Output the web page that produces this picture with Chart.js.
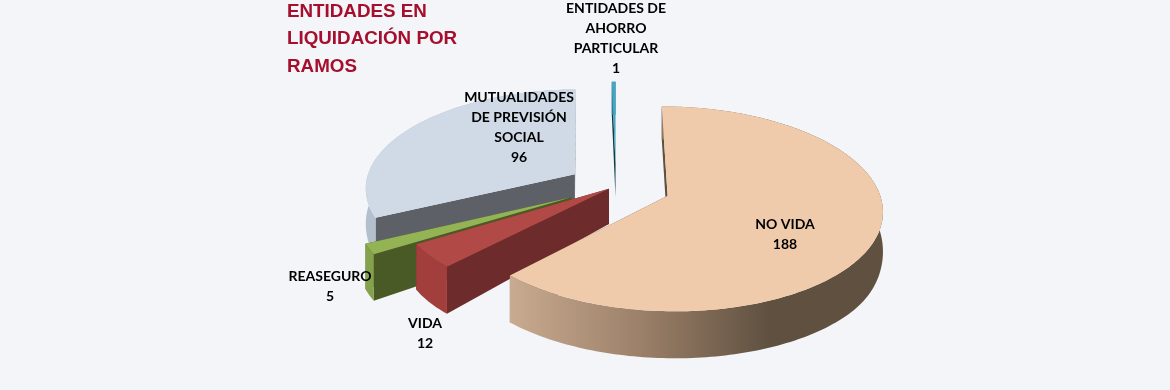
<!DOCTYPE html>
<html>
<head>
<meta charset="utf-8">
<style>
  html, body { margin: 0; padding: 0; background: #f3f5f8; }
  #chart { display: block; }
</style>
<script src="https://cdn.jsdelivr.net/npm/chart.js@4"></script>
</head>
<body>
<canvas id="chart" width="1170" height="390"></canvas>
<script>
const categories = [
  ['NO VIDA'],
  ['VIDA'],
  ['REASEGURO'],
  ['MUTUALIDADES', 'DE PREVISIÓN', 'SOCIAL'],
  ['ENTIDADES DE', 'AHORRO', 'PARTICULAR']
];
const values = [188, 12, 5, 96, 1];
const titleLines = ['ENTIDADES EN', 'LIQUIDACIÓN POR', 'RAMOS'];

const explode = [55, 9, 50, 49, 47];
const topColors = ['#efcbab', '#b14a47', '#93b355', '#cfdae6', '#45a6c3'];
const radialColors = ['#5f5040', '#6e2b2b', '#4a5a26', '#5d6167', '#123a45'];
const rimColors = ['#5f5040', '#a23f3d', '#84a24c', '#b4bfcd', '#2d7f98'];
const labelCenters = [[785, 224], [425, 323], [330, 276], [519, 97], [616, 8]];

// fake 3D: flat pie coords from Chart.js get pushed through a small perspective
const perspective = 0.0006;
const squash = 0.468;

const project = (cx, cy, u, v, down) => {
  const s = 1 / (1 - perspective * v);
  const x = cx + u * s;
  const y = cy + squash * v * s;
  // side height grows towards the viewer, then levels off smoothly
  const t = Math.min(1, Math.max(0, (s - 0.97) / 0.13));
  const depth = 33 + 14 * t * t * (3 - 2 * t);
  return down ? [x, y + depth] : [x, y];
}

const arcPoints = (u0, v0, r, start, end) => {
  const pts = [];
  const steps = Math.max(2, Math.ceil((end - start) / 0.02));
  for (let i = 0; i <= steps; i++) {
    const a = start + (end - start) * i / steps;
    pts.push([u0 + Math.cos(a) * r, v0 + Math.sin(a) * r]);
  }
  return pts;
}

const fillPoly = (ctx, pts, color) => {
  ctx.beginPath();
  pts.forEach((p, i) => i ? ctx.lineTo(p[0], p[1]) : ctx.moveTo(p[0], p[1]));
  ctx.closePath();
  ctx.fillStyle = color;
  ctx.fill();
}

const pie3d = {
  id: 'pie3d',
  beforeDatasetsDraw(chart) {
    const ctx = chart.ctx;
    const arcs = chart.getDatasetMeta(0).data;
    const tops = chart.data.datasets[0].backgroundColor;

    // back to front, so the big slice ends up on top
    for (let i = arcs.length - 1; i >= 0; i--) {
      const arc = arcs[i];
      const mid = (arc.startAngle + arc.endAngle) / 2;
      const u0 = Math.cos(mid) * arc.options.offset;
      const v0 = Math.sin(mid) * arc.options.offset;
      const flat = arcPoints(u0, v0, arc.outerRadius, arc.startAngle, arc.endAngle);
      const up = flat.map(p => project(arc.x, arc.y, p[0], p[1], false));
      const low = flat.map(p => project(arc.x, arc.y, p[0], p[1], true));
      const apexUp = project(arc.x, arc.y, u0, v0, false);
      const apexLow = project(arc.x, arc.y, u0, v0, true);

      fillPoly(ctx, [apexUp, up[0], low[0], apexLow], radialColors[i]);
      fillPoly(ctx, [apexUp, up[up.length - 1], low[low.length - 1], apexLow], radialColors[i]);

      let rim = rimColors[i];
      if (i === 0) {
        rim = ctx.createLinearGradient(509, 0, 883, 0);
        rim.addColorStop(0, '#c8ab90');
        rim.addColorStop(0.35, '#9c8069');
        rim.addColorStop(0.7, '#5f5040');
        rim.addColorStop(1, '#5f5040');
      }
      fillPoly(ctx, up.concat(low.slice().reverse()), rim);
      fillPoly(ctx, [apexUp].concat(up), tops[i]);
    }

    // slice labels
    ctx.save();
    ctx.font = 'bold 14px Lato';
    ctx.fillStyle = '#000';
    ctx.textAlign = 'center';
    ctx.textBaseline = 'middle';
    categories.forEach((lines, i) => {
      lines.concat(String(values[i])).forEach((line, n) => {
        ctx.fillText(line, labelCenters[i][0], labelCenters[i][1] + n * 20);
      });
    });

    // title
    ctx.font = 'bold 18.8px "Liberation Sans"';
    ctx.fillStyle = '#a50f2d';
    ctx.textAlign = 'left';
    titleLines.forEach((line, n) => ctx.fillText(line, 287, 11.5 + n * 27.5));
    ctx.restore();

    return false;
  }
};

new Chart(document.getElementById('chart').getContext('2d'), {
  type: 'pie',
  data: {
    labels: categories,
    datasets: [{
      data: values,
      backgroundColor: topColors,
      offset: explode,
      borderWidth: 0
    }]
  },
  options: {
    responsive: false,
    animation: false,
    events: [],
    radius: 210,
    layout: { padding: { left: 62, bottom: 18 } },
    plugins: { legend: { display: false }, tooltip: { enabled: false } }
  },
  plugins: [pie3d]
});
</script>
</body>
</html>
